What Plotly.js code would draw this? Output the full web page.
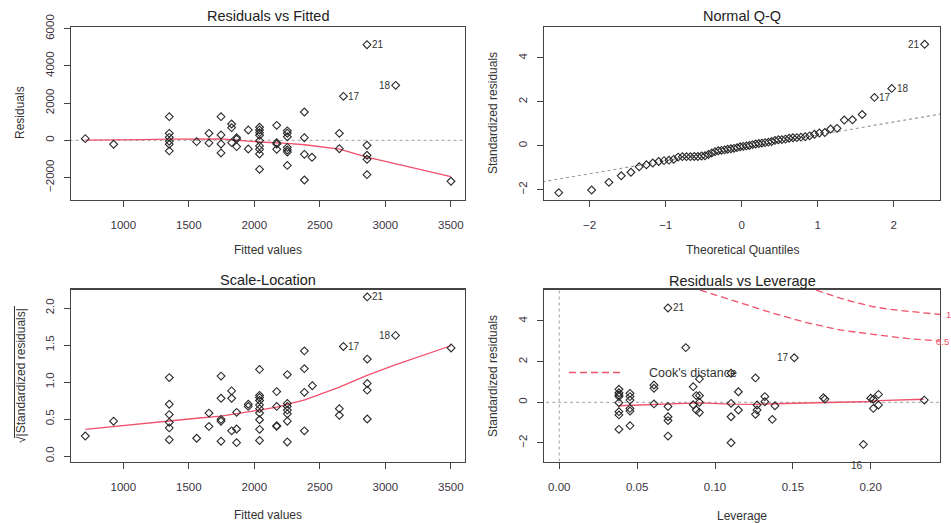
<!DOCTYPE html>
<html>
<head>
<meta charset="utf-8">
<script src="https://cdn.plot.ly/plotly-3.0.1.min.js"></script>
<style>html,body{margin:0;padding:0;background:#fff}#chart{width:951px;height:523px}</style>
</head>
<body>
<div id="chart"></div>
<script>
// ---------- Residuals vs Fitted ----------
const rvfFitted = [710, 926, 1351,1351,1351,1351,1351,1351, 1560, 1654,1654, 1746,1746,1746,1746,
  1827,1827,1827, 1865,1865,1865, 1954,1954, 2040,2040,2040,2040,2040,2040,2040,2040,2040,
  2171,2171,2171,2171, 2252,2252,2252,2252,2252,2252,2252, 2382,2382,2382,2382, 2440,
  2649,2649, 2680, 2860,2860,2860,2860,2860, 3079, 3501];
const rvfResid = [90, -215, 1270,376,161,-50,-210,-570, -72, 376,-140, 1271,286,-197,-680,
  877,680,-125, 140,60,-340, 555,-465, 700,555,410,270,-20,-300,-485,-735,-1560,
  806,-130,-200,-485, 510,380,190,-380,-520,-630,-1350, 1521,140,-753,-2134, -914,
  376,-452, 2365, 5140,-269,-806,-1021,-1849, 2957, -2204];
const rvfSmoothX = [710, 926, 1150, 1351, 1560, 1750, 1830, 1865, 1954, 2040, 2170, 2250, 2385, 2650, 2860, 3075, 3500];
const rvfSmoothY = [5, 10, 40, 60, 70, 75, 30, 0, -40, -90, -130, -170, -240, -480, -900, -1250, -1950];
const rvfLabX = [2860, 2680, 3079];
const rvfLabY = [5140, 2365, 2957];
const rvfLabTxt = ['21', '17', '18'];

// ---------- Normal Q-Q ----------
const qqTheo = [-2.407,-1.974,-1.747,-1.585,-1.457,-1.349,-1.254,-1.170,-1.093,-1.022,-0.957,-0.895,-0.836,-0.780,-0.726,-0.674,
  -0.624,-0.576,-0.529,-0.483,-0.438,-0.394,-0.351,-0.308,-0.266,-0.225,-0.184,-0.142,-0.101,-0.061,-0.020,
  0.020,0.061,0.101,0.142,0.184,0.225,0.266,0.308,0.351,0.394,0.438,0.483,0.529,0.576,0.624,0.674,
  0.726,0.780,0.836,0.895,0.957,1.022,1.093,1.170,1.254,1.349,1.457,1.585,1.747,1.974,2.407];
const qqStd = [-2.14,-2.02,-1.67,-1.37,-1.21,-0.96,-0.87,-0.79,-0.72,-0.68,-0.66,-0.62,-0.52,-0.50,-0.50,-0.50,
  -0.49,-0.49,-0.47,-0.46,-0.40,-0.33,-0.27,-0.23,-0.21,-0.19,-0.16,-0.14,-0.12,-0.09,-0.05,
  -0.03,-0.01,0.01,0.05,0.08,0.10,0.12,0.14,0.16,0.19,0.24,0.27,0.28,0.30,0.34,0.36,
  0.37,0.39,0.41,0.45,0.52,0.58,0.60,0.76,0.79,1.17,1.18,1.42,2.20,2.61,4.62];
const qqLineX = [-2.7, 2.7];
const qqLineY = [-1.69, 1.49];
const qqLabX = [2.407, 1.747, 1.974];
const qqLabY = [4.62, 2.20, 2.61];
const qqLabTxt = ['21', '17', '18'];

// ---------- Scale-Location ----------
const slFitted = [710, 926, 1351,1351,1351,1351,1351,1351, 1560, 1654,1654, 1746,1746,1746,1746,1746,
  1827,1827,1827, 1865,1865,1865, 1954,1954, 2040,2040,2040,2040,2040,2040,2040,2040,2040,2040,
  2171,2171,2171,2171, 2252,2252,2252,2252,2252,2252,2252, 2382,2382,2382,2382, 2443,
  2649,2649, 2680, 2862,2862,2862,2862,2862, 3078, 3502];
const slSqrt = [0.27, 0.47, 1.06,0.70,0.56,0.455,0.38,0.22, 0.24, 0.58,0.40, 1.08,0.78,0.495,0.47,0.20,
  0.88,0.78,0.34, 0.59,0.365,0.18, 0.70,0.67, 1.17,0.82,0.79,0.75,0.69,0.64,0.58,0.49,0.36,0.21,
  0.87,0.67,0.41,0.40, 1.10,0.71,0.67,0.62,0.57,0.47,0.19, 1.42,1.18,0.86,0.34, 0.95,
  0.64,0.55, 1.48, 2.15,1.31,0.98,0.89,0.50, 1.63, 1.46];
const slSmoothX = [710, 926, 1351, 1560, 1746, 1865, 2040, 2170, 2250, 2385, 2650, 2860, 3075, 3500];
const slSmoothY = [0.36, 0.40, 0.48, 0.51, 0.54, 0.57, 0.62, 0.66, 0.70, 0.76, 0.93, 1.09, 1.23, 1.49];
const slLabX = [2862, 2680, 3078];
const slLabY = [2.15, 1.48, 1.63];
const slLabTxt = ['21', '17', '18'];

// ---------- Residuals vs Leverage ----------
const levH = [0.0383,0.0383,0.0383,0.0383,0.0383,0.0383,0.0383,0.0383,
  0.0454,0.0454,0.0454,0.0454,0.0454,0.0454, 0.0608,0.0608,0.0608,
  0.0698,0.0698,0.0698,0.0698,0.0698, 0.0812, 0.086,0.086, 0.088,0.088, 0.090,0.090,0.090,0.090,
  0.1103,0.1103,0.1103,0.1103, 0.115,0.115, 0.126,0.127,0.127,0.126, 0.132,0.132, 0.1368, 0.1385,
  0.1509, 0.1696, 0.1706, 0.1953, 0.200, 0.2017,0.2017, 0.205,0.205, 0.2344];
const levStd = [0.64,0.47,0.36,0.28,-0.02,-0.46,-0.62,-1.33,
  0.44,0.28,0.11,-0.30,-0.43,-1.15, 0.85,0.69,-0.08,
  4.64,-0.21,-0.71,-0.90,-1.66, 2.69, 0.77,-0.12, 0.33,-0.38, 1.15,0.33,0.0,-0.5,
  1.43,-0.05,-0.71,-1.99, 0.52,-0.38, 1.20,-0.13,-0.38,-0.59, 0.28,0.03, -0.84, -0.17,
  2.19, 0.23, 0.16, -2.07, 0.20, 0.15,-0.30, 0.39,-0.13, 0.11];
const levSmoothX = [0.038, 0.045, 0.060, 0.070, 0.090, 0.110, 0.126, 0.138, 0.150, 0.170, 0.200, 0.205, 0.234];
const levSmoothY = [-0.17, -0.15, -0.10, -0.09, -0.03, -0.09, -0.10, -0.07, -0.05, 0.00, 0.04, 0.08, 0.15];
const cook1X = [0.165, 0.1803, 0.191, 0.2017, 0.2124, 0.2231, 0.2338, 0.2445];
const cook1Y = [5.52, 5.12, 4.90, 4.70, 4.57, 4.49, 4.38, 4.32];
const cook05X = [0.0904, 0.1075, 0.118, 0.1374, 0.1588, 0.1803, 0.2017, 0.2231, 0.2445];
const cook05Y = [5.52, 5.11, 4.83, 4.38, 3.92, 3.56, 3.34, 3.14, 3.01];
const cookLabTxt = ['1', '0.5'];
const levLabX = [0.0698, 0.1509, 0.1953];
const levLabY = [4.64, 2.19, -2.07];
const levLabTxt = ['21', '17', '16'];

// ---------- styling ----------
const W = 951, H = 523;
const FONT = '"Liberation Sans", Arial, sans-serif';
const INK = '#333';
const RED = '#f0506a';
const DASH = '7px,4px';
const fx = v => v / W;
const fy = v => 1 - v / H;

const ptMarker = {symbol: 'diamond-open', size: 6, color: '#2a2a2a', line: {width: 1.1, color: '#2a2a2a'}};

function pts(x, y, n) {
  return {x: x, y: y, xaxis: 'x' + n, yaxis: 'y' + n, type: 'scatter', mode: 'markers',
    marker: ptMarker, hoverinfo: 'skip', showlegend: false};
}
function line(x, y, n, color, dash, width) {
  return {x: x, y: y, xaxis: 'x' + n, yaxis: 'y' + n, type: 'scatter', mode: 'lines',
    line: {color: color, dash: dash, width: width}, hoverinfo: 'skip', showlegend: false};
}

const traces = [
  line([590, 3620], [0, 0], '', '#b0b0b0', 'dot', 1.2),
  line(rvfSmoothX, rvfSmoothY, '', RED, 'solid', 1.3),
  pts(rvfFitted, rvfResid, ''),
  line(qqLineX, qqLineY, '2', '#999', 'dot', 1.2),
  pts(qqTheo, qqStd, '2'),
  line(slSmoothX, slSmoothY, '3', RED, 'solid', 1.3),
  pts(slFitted, slSqrt, '3'),
  line([-0.02, 0.26], [0, 0], '4', '#b0b0b0', 'dot', 1.2),
  line([0, 0], [-3.5, 6], '4', '#b0b0b0', 'dot', 1.2),
  line(levSmoothX, levSmoothY, '4', RED, 'solid', 1.3),
  line(cook1X, cook1Y, '4', RED, DASH, 1.3),
  line(cook05X, cook05Y, '4', RED, DASH, 1.3),
  pts(levH, levStd, '4')
];

function axis(anchor, domain, range, dtick, tick0, fmt, rot) {
  return {
    anchor: anchor, domain: domain, range: range, dtick: dtick, tick0: tick0, tickformat: fmt,
    showline: true, mirror: true, linecolor: '#444', linewidth: 1.2,
    ticks: 'outside', ticklen: 6, tickwidth: 1, tickcolor: '#444',
    ticklabelstandoff: rot ? 5 : 8,
    showgrid: false, zeroline: false, fixedrange: true,
    tickangle: rot ? -90 : 0,
    tickfont: {family: FONT, size: 11.5, color: '#3a3340'}
  };
}

const layout = {
  width: W, height: H,
  margin: {l: 0, r: 0, t: 0, b: 0},
  paper_bgcolor: '#fff', plot_bgcolor: '#fff',
  font: {family: FONT, color: INK},
  showlegend: false,
  xaxis:  axis('y',  [fx(71), fx(465)], [601, 3608], 500, 1000, 'd'),
  yaxis:  axis('x',  [fy(199.5), fy(27)], [-3183, 6092], 2000, 0, 'd', true),
  xaxis2: axis('y2', [fx(544), fx(940)], [-2.601, 2.609], 1, 0, 'd'),
  yaxis2: axis('x2', [fy(199.5), fy(27)], [-2.451, 5.408], 2, 0, 'd', true),
  xaxis3: axis('y3', [fx(71), fx(465)], [601, 3608], 500, 1000, 'd'),
  yaxis3: axis('x3', [fy(462), fy(289.5)], [-0.081, 2.25], 0.5, 0, '.1f', true),
  xaxis4: axis('y4', [fx(544), fx(940)], [-0.00983, 0.2445], 0.05, 0, '.2f'),
  yaxis4: axis('x4', [fy(462), fy(289.5)], [-2.936, 5.549], 2, 0, 'd', true),
  shapes: [],
  annotations: []
};

function ann(text, x, y, opts) {
  return Object.assign({text: text, x: x, y: y, xref: 'paper', yref: 'paper', showarrow: false,
    font: {family: FONT, size: 12, color: INK}, xanchor: 'center', yanchor: 'middle'}, opts || {});
}
const A = layout.annotations;
const TF = {family: FONT, size: 14.5, color: '#222'};
A.push(ann('Residuals vs Fitted', fx(268), fy(16), {font: TF}));
A.push(ann('Normal Q-Q', fx(742), fy(16), {font: TF}));
A.push(ann('Scale-Location', fx(268), fy(280), {font: TF}));
A.push(ann('Residuals vs Leverage', fx(742), fy(280.5), {font: TF}));
A.push(ann('Fitted values', fx(268), fy(250)));
A.push(ann('Theoretical Quantiles', fx(742), fy(250)));
A.push(ann('Fitted values', fx(268), fy(515)));
A.push(ann('Leverage', fx(742), fy(515.5)));
A.push(ann('Residuals', fx(20), fy(113), {textangle: -90}));
A.push(ann('Standardized residuals', fx(493), fy(113), {textangle: -90}));
A.push(ann('√|Standardized residuals|', fx(21), fy(376), {textangle: -90}));
A.push(ann('Standardized residuals', fx(493), fy(376), {textangle: -90}));
// square-root bar over the rotated label
layout.shapes.push({type: 'line', xref: 'paper', yref: 'paper', x0: fx(14.5), x1: fx(14.5), y0: fy(306), y1: fy(438),
  line: {color: INK, width: 1}});

const labFont = {family: FONT, size: 10, color: '#333'};
function ptLab(xs, ys, txt, n, sides) {
  xs.forEach((x, i) => {
    const s = sides[i];
    const o = {text: txt[i], x: x, y: ys[i], xref: 'x' + n, yref: 'y' + n, showarrow: false,
      font: labFont, yanchor: 'middle'};
    if (s === 'r') { o.xanchor = 'left'; o.xshift = 3; }
    else if (s === 'l') { o.xanchor = 'right'; o.xshift = -3; }
    else { o.xanchor = 'center'; o.yshift = -21; o.xshift = -6; }
    A.push(o);
  });
}
ptLab(rvfLabX, rvfLabY, rvfLabTxt, '', ['r', 'r', 'l']);
ptLab(qqLabX, qqLabY, qqLabTxt, '2', ['l', 'r', 'r']);
ptLab(slLabX, slLabY, slLabTxt, '3', ['r', 'r', 'l']);
ptLab(levLabX, levLabY, levLabTxt, '4', ['r', 'l', 'b']);

// Cook's distance contour labels, just right of the panel
const CF = {family: FONT, size: 9.5, color: RED};
A.push({text: cookLabTxt[0], x: fx(944), xref: 'paper', y: cook1Y[cook1Y.length - 1], yref: 'y4',
  showarrow: false, xanchor: 'left', font: CF});
A.push({text: cookLabTxt[1], x: fx(950.5), xref: 'paper', y: cook05Y[cook05Y.length - 1], yref: 'y4',
  showarrow: false, xanchor: 'right', font: CF});

// Cook's distance legend
layout.shapes.push({type: 'line', xref: 'paper', yref: 'paper', x0: fx(569), x1: fx(623), y0: fy(372.5), y1: fy(372.5),
  line: {color: RED, width: 1.3, dash: DASH}});
A.push(ann("Cook's distance", fx(647), fy(373), {xanchor: 'left', font: {family: FONT, size: 12.5, color: '#333'}}));

Plotly.newPlot('chart', traces, layout, {staticPlot: true, displayModeBar: false});
</script>
</body>
</html>
